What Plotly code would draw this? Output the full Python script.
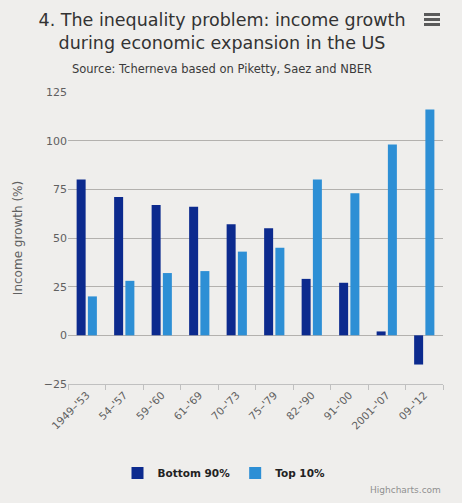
import plotly.graph_objects as go

periods = ["1949–'53", "54–'57", "59–'60", "61–'69", "70–'73", "75–'79",
           "82–'90", "91–'00", "2001–'07", "09–'12"]
bottom_90 = [80, 71, 67, 66, 57, 55, 29, 27, 2, -15]
top_10 = [20, 28, 32, 33, 43, 45, 80, 73, 98, 116]

W, H = 462, 503
L, R, T, B = 68, 19, 92, 119
BG = "#efeeec"
FONT = "DejaVu Sans"

def py(px):
    return (H - B - px) / (H - T - B)

def pxx(px):
    return (px - L) / (W - L - R)

fig = go.Figure()
fig.add_trace(go.Bar(name="<b>Bottom 90%</b>", x=periods, y=bottom_90,
                     marker=dict(color="#0c2a8e", line=dict(width=0))))
fig.add_trace(go.Bar(name="<b>Top 10%</b>", x=periods, y=top_10,
                     marker=dict(color="#2d8fd5", line=dict(width=0))))

shapes = []
for y0 in (13, 18, 23):
    shapes.append(dict(type="rect", xref="paper", yref="paper",
                       x0=pxx(424), x1=pxx(440), y0=py(y0 + 3), y1=py(y0),
                       fillcolor="#5a5a5a", line=dict(width=0)))

fig.update_layout(
    width=W, height=H,
    margin=dict(l=L, r=R, t=T, b=B),
    paper_bgcolor=BG, plot_bgcolor=BG,
    font=dict(family=FONT, color="#606060", size=11),
    barmode="group", bargap=0.4, bargroupgap=0.2,
    title=dict(text="4. The inequality problem: income growth<br>during economic expansion in the US",
               x=222 / W, xanchor="center", xref="container",
               y=1 - 26 / H, yanchor="middle", yref="container",
               font=dict(family=FONT, size=17.5, color="#333333")),
    xaxis=dict(type="category", tickson="boundaries", ticks="outside",
               ticklen=5, tickcolor="#c0c0c0", showline=True,
               linecolor="#c0c0c0", linewidth=1, showgrid=False,
               tickangle=-45, tickfont=dict(size=10.5, color="#606060")),
    yaxis=dict(range=[-25, 125], dtick=25, tick0=0, showgrid=True,
               gridcolor="#b3b1ae", gridwidth=1, zeroline=True,
               zerolinecolor="#b3b1ae", zerolinewidth=1,
               ticks="", showline=False,
               tickfont=dict(size=11, color="#606060"),
               title=dict(text="Income growth (%)", standoff=18,
                          font=dict(size=12, color="#606060"))),
    legend=dict(orientation="h", x=224 / W, xanchor="center",
                xref="container",
                y=1 - 473 / H, yanchor="middle", yref="container",
                font=dict(size=10.5, color="#222222", family=FONT),
                bgcolor="rgba(0,0,0,0)", traceorder="normal"),
    shapes=shapes,
    annotations=[
        dict(text="Source: Tcherneva based on Piketty, Saez and NBER",
             xref="paper", yref="paper", x=pxx(222), y=py(69),
             xanchor="center", yanchor="middle", showarrow=False,
             font=dict(family=FONT, size=11.5, color="#3a3a3a")),
        dict(text="Highcharts.com", xref="paper", yref="paper",
             x=pxx(443), y=py(490), xanchor="right", yanchor="middle",
             showarrow=False, font=dict(family=FONT, size=9, color="#909090")),
    ],
)

fig.write_html("out.html", config={"displayModeBar": False},
               post_script="document.body.style.margin='0';document.body.style.background='#efeeec';")
